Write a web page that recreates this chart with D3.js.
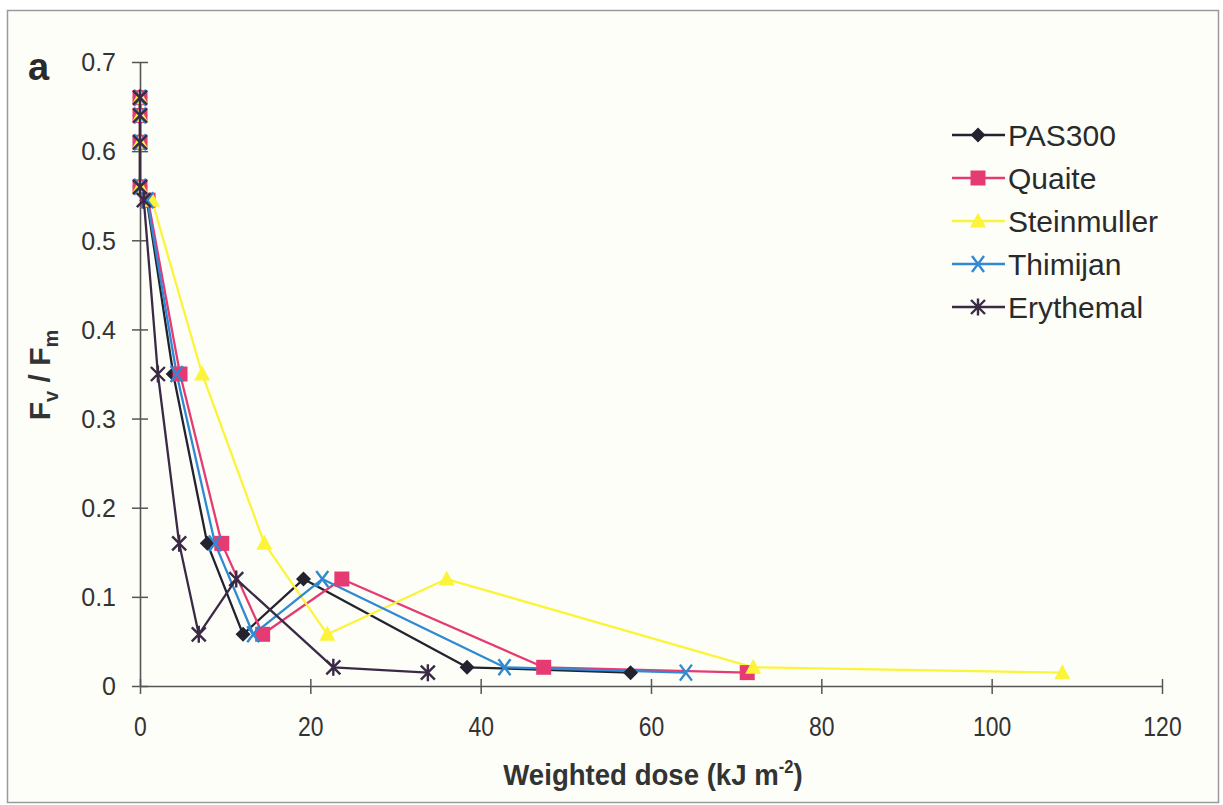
<!DOCTYPE html>
<html>
<head>
<meta charset="utf-8">
<script src="https://cdn.jsdelivr.net/npm/d3@7"></script>
<style>
  html, body { margin: 0; padding: 0; background: #ffffff; }
  svg { display: block; }
</style>
</head>
<body>
<script>
// ---- data ----
const seriesNames = ["PAS300", "Quaite", "Steinmuller", "Thimijan", "Erythemal"];
const fvfm = [0.66, 0.64, 0.61, 0.56, 0.545, 0.35, 0.16, 0.058, 0.12, 0.021, 0.015];
const dosePAS300 = [0, 0, 0, 0, 0.8, 3.9, 7.9, 12.1, 19.2, 38.4, 57.6];
const doseQuaite = [0, 0, 0, 0, 0.95, 4.7, 9.6, 14.4, 23.7, 47.4, 71.3];
const doseSteinmuller = [0, 0, 0, 0, 1.4, 7.3, 14.6, 22.0, 36.0, 72.0, 108.3];
const doseThimijan = [0, 0, 0, 0, 0.85, 4.3, 8.8, 13.3, 21.4, 42.8, 64.1];
const doseErythemal = [0, 0, 0, 0, 0.45, 2.1, 4.6, 6.9, 11.3, 22.7, 33.8];
const xTicks = [0, 20, 40, 60, 80, 100, 120];
const yTicks = [0, 0.1, 0.2, 0.3, 0.4, 0.5, 0.6, 0.7];
const seriesColors = ["#23222f", "#e63a72", "#fbf43a", "#2f8ad3", "#3b2a45"];
const seriesMarkers = ["diamond", "square", "triangle", "x", "asterisk"];

const doses = [dosePAS300, doseQuaite, doseSteinmuller, doseThimijan, doseErythemal];
const series = seriesNames.map((n, i) => ({
  name: n, color: seriesColors[i], marker: seriesMarkers[i],
  points: doses[i].map((d, j) => ({ x: d, y: fvfm[j] }))
}));

const W = 1223, H = 805;
const svg = d3.select("body").append("svg").attr("width", W).attr("height", H);
svg.append("rect").attr("x", 0).attr("y", 0).attr("width", W).attr("height", H).attr("fill", "#ffffff");
svg.append("rect").attr("x", 7.5).attr("y", 10.5).attr("width", 1211).attr("height", 792)
  .attr("fill", "#fefef9").attr("stroke", "#9a9a9a").attr("stroke-width", 1.5);

const x = d3.scaleLinear().domain([0, 120]).range([140, 1162]);
const y = d3.scaleLinear().domain([0, 0.7]).range([686, 62]);

const axisColor = "#555";
// x axis
const xa = svg.append("g").attr("transform", `translate(0,${y(0)})`)
  .call(d3.axisBottom(x).tickValues(xTicks).tickSize(0).tickPadding(0).tickFormat(""));
xa.select(".domain").attr("stroke", axisColor).attr("stroke-width", 1.6);
xa.selectAll(".tick").each(function(d) {
  d3.select(this).append("line").attr("y1", -7).attr("y2", 8).attr("stroke", axisColor).attr("stroke-width", 1.5);
  d3.select(this).append("text").attr("transform", "translate(0,50) scale(0.85,1)").attr("text-anchor", "middle")
    .attr("fill", "#333").style("font-family", "'Liberation Sans', Arial, sans-serif")
    .style("font-size", "27px").text(d);
});
// y axis
const ya = svg.append("g").attr("transform", `translate(${x(0)},0)`)
  .call(d3.axisLeft(y).tickValues(yTicks).tickSize(0).tickPadding(0).tickFormat(""));
ya.select(".domain").attr("stroke", axisColor).attr("stroke-width", 1.6);
ya.selectAll(".tick").each(function(d) {
  d3.select(this).append("line").attr("x1", -8).attr("x2", 8).attr("stroke", axisColor).attr("stroke-width", 1.5);
  d3.select(this).append("text").attr("x", -24).attr("dy", "0.35em").attr("text-anchor", "end")
    .attr("fill", "#333").style("font-family", "'Liberation Sans', Arial, sans-serif")
    .style("font-size", "25px").text(d3.format("")(d));
});

// lines
const line = d3.line().x(d => x(d.x)).y(d => y(d.y));
const plot = svg.append("g");
series.forEach(s => {
  plot.append("path").datum(s.points).attr("d", line)
    .attr("fill", "none").attr("stroke", s.color).attr("stroke-width", 2.3).attr("stroke-linejoin", "round");
});

function drawMarker(g, type, color, cx, cy) {
  const r = 7.5;
  if (type === "diamond") {
    g.append("path").attr("d", `M${cx},${cy - r}L${cx + r},${cy}L${cx},${cy + r}L${cx - r},${cy}Z`).attr("fill", color);
  } else if (type === "square") {
    g.append("rect").attr("x", cx - 7.5).attr("y", cy - 7.5).attr("width", 15).attr("height", 15).attr("fill", color);
  } else if (type === "triangle") {
    g.append("path").attr("d", `M${cx},${cy - 8.5}L${cx + 8},${cy + 6.5}L${cx - 8},${cy + 6.5}Z`).attr("fill", color);
  } else if (type === "x") {
    g.append("path").attr("d", `M${cx - 6},${cy - 8}L${cx + 6},${cy + 8}M${cx + 6},${cy - 8}L${cx - 6},${cy + 8}`)
      .attr("stroke", color).attr("stroke-width", 2.4).attr("fill", "none");
  } else if (type === "asterisk") {
    g.append("path").attr("d", `M${cx - 7},${cy - 7}L${cx + 7},${cy + 7}M${cx + 7},${cy - 7}L${cx - 7},${cy + 7}M${cx},${cy - 8.5}L${cx},${cy + 8.5}`)
      .attr("stroke", color).attr("stroke-width", 2.4).attr("fill", "none");
  }
}
series.forEach(s => {
  const g = plot.append("g");
  s.points.forEach(p => drawMarker(g, s.marker, s.color, x(p.x), y(p.y)));
});

// legend
const leg = svg.append("g");
series.forEach((s, i) => {
  const ly = 135 + i * 43;
  leg.append("line").attr("x1", 952).attr("x2", 1005).attr("y1", ly).attr("y2", ly)
    .attr("stroke", s.color).attr("stroke-width", 2.3);
  drawMarker(leg, s.marker, s.color, 978, ly);
  leg.append("text").attr("x", 1008).attr("y", ly).attr("dy", "0.36em")
    .attr("fill", "#2a2a2a").style("font-family", "'Liberation Sans', Arial, sans-serif")
    .style("font-size", "30px").text(s.name);
});

// titles
svg.append("text").attr("transform", "translate(653,785) scale(0.92,1)").attr("text-anchor", "middle")
  .attr("fill", "#333").style("font-family", "'Liberation Sans', Arial, sans-serif")
  .style("font-weight", "bold").style("font-size", "30px")
  .call(t => {
    t.append("tspan").text("Weighted dose (kJ m");
    t.append("tspan").attr("dy", -12).style("font-size", "18px").text("-2");
    t.append("tspan").attr("dy", 12).text(")");
  });

svg.append("text").attr("transform", "translate(50,375) rotate(-90)").attr("text-anchor", "middle")
  .attr("fill", "#333").style("font-family", "'Liberation Sans', Arial, sans-serif")
  .style("font-weight", "bold").style("font-size", "30px")
  .call(t => {
    t.append("tspan").text("F");
    t.append("tspan").attr("dy", 8).style("font-size", "20px").text("v");
    t.append("tspan").attr("dy", -8).text(" / F");
    t.append("tspan").attr("dy", 8).style("font-size", "20px").text("m");
  });

svg.append("text").attr("x", 28).attr("y", 80).attr("fill", "#2a2a2a")
  .style("font-family", "'Liberation Sans', Arial, sans-serif").style("font-weight", "bold")
  .style("font-size", "38px").text("a");
</script>
</body>
</html>
